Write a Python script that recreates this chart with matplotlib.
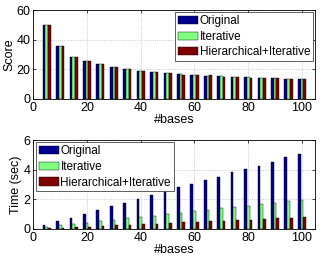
import numpy as np
import matplotlib
matplotlib.use("Agg")
import matplotlib.pyplot as plt

# data
bases = [5, 10, 15, 20, 25, 30, 35, 40, 45, 50, 55, 60, 65, 70, 75, 80, 85, 90, 95, 100]
labels = ["Original", "Iterative", "Hierarchical+Iterative"]

score_orig = [50, 36, 28.5, 25.5, 23.3, 21.8, 20.2, 19.2, 18.4, 17.4, 16.8, 16.3, 15.8, 15.3, 15.0, 14.7, 14.4, 14.1, 13.8, 13.6]
score_iter = [50, 36, 28.5, 25.5, 23.3, 21.8, 20.2, 19.2, 18.4, 17.4, 16.8, 16.3, 15.8, 15.3, 15.0, 14.7, 14.4, 14.1, 13.8, 13.6]
score_hier = [50, 36, 28.5, 25.7, 23.4, 21.8, 20.4, 19.0, 18.1, 17.2, 16.5, 16.4, 16.0, 14.9, 15.1, 14.4, 14.4, 14.0, 13.6, 13.5]

time_orig = [0.27, 0.52, 0.77, 1.0, 1.27, 1.53, 1.75, 2.03, 2.27, 2.53, 2.8, 3.02, 3.32, 3.52, 3.82, 4.06, 4.28, 4.53, 4.85, 5.05]
time_iter = [0.12, 0.24, 0.34, 0.42, 0.53, 0.6, 0.72, 0.8, 0.9, 1.0, 1.08, 1.2, 1.28, 1.4, 1.48, 1.58, 1.68, 1.75, 1.87, 1.95]
time_hier = [0.05, 0.08, 0.12, 0.16, 0.2, 0.24, 0.28, 0.32, 0.36, 0.4, 0.44, 0.48, 0.52, 0.56, 0.6, 0.63, 0.68, 0.72, 0.76, 0.78]

colors = ['#00008f', '#80ff80', '#800000']
plt.rcParams['font.family'] = ['Liberation Sans', 'DejaVu Sans']
plt.rcParams['font.size'] = 9

fig = plt.figure(figsize=(3.33, 2.59), dpi=100)
ax1 = fig.add_axes([0.10, 0.618, 0.847, 0.343])
ax2 = fig.add_axes([0.10, 0.116, 0.847, 0.343])

x = np.array(bases)
w = 1.0

def draw(ax, series, ylabel, ylim, yticks, loc):
    for i, s in enumerate(series):
        ax.bar(x + (i - 1) * w, s, width=w, color=colors[i], edgecolor='black',
               linewidth=0.3, label=labels[i], zorder=3)
    ax.set_xlim(0, 105)
    ax.set_ylim(*ylim)
    ax.set_xticks([0, 20, 40, 60, 80, 100])
    ax.set_yticks(yticks)
    ax.set_xlabel("#bases", labelpad=0)
    ax.set_ylabel(ylabel, labelpad=1)
    ax.grid(True, ls=':', color='#bbbbbb', lw=0.6, zorder=0)
    ax.tick_params(direction='in', length=2, width=0.5, pad=2, top=True, right=True)
    for sp in ax.spines.values():
        sp.set_linewidth(0.6)
    leg = ax.legend(loc=loc, fancybox=False, edgecolor='#444444', framealpha=1,
                    fontsize=8.5, handlelength=1.7, handleheight=0.7, handletextpad=0.15,
                    borderpad=0.25, labelspacing=0.3, borderaxespad=0.2)
    leg.get_frame().set_linewidth(0.6)

draw(ax1, [score_orig, score_iter, score_hier], "Score", (0, 60), [0, 20, 40, 60], 'upper right')
draw(ax2, [time_orig, time_iter, time_hier], "Time (sec)", (0, 6), [0, 2, 4, 6], 'upper left')

fig.savefig("out.png", dpi=100)
